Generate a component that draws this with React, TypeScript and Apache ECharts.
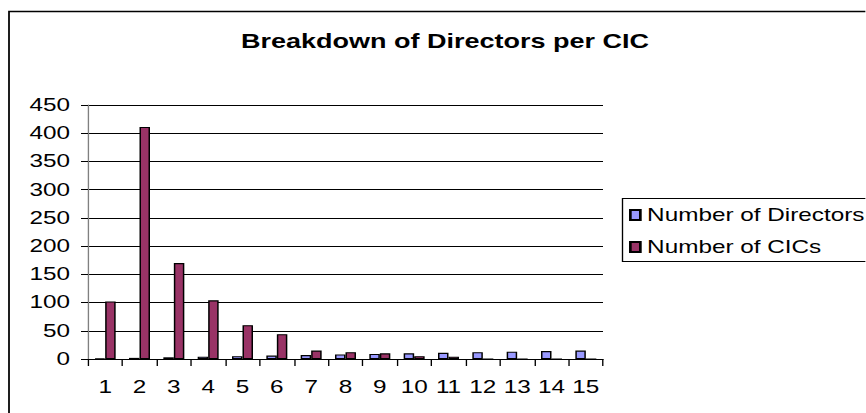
import React, { useEffect, useRef } from "react";
import * as echarts from "echarts";

const categories = ["1", "2", "3", "4", "5", "6", "7", "8", "9", "10", "11", "12", "13", "14", "15"];
const directors = [1, 2, 3, 4, 5, 6, 7, 8, 9, 10, 11, 12, 13, 14, 15];
const cics = [102, 411, 170, 104, 60, 44, 15, 12, 10, 5, 4, 0, 0, 0, 0];
const yTicks = { min: 0, max: 450, interval: 50 };

const S = 1.35; // horizontal stretch of the reference picture
const W = 866 / S;
const H = 413;
const sx = (v: number) => v / S;

export default function App() {
  const ref = useRef<HTMLDivElement>(null);
  useEffect(() => {
    if (!ref.current) return;
    const chart = echarts.init(ref.current, undefined, { renderer: "svg", width: W, height: H });
    const font = "'Liberation Sans', Arial, sans-serif";
    chart.setOption({
      animation: false,
      textStyle: { fontFamily: font, color: "#000" },
      title: {
        text: "Breakdown of Directors per CIC",
        left: sx(241),
        top: 31,
        padding: 0,
        textStyle: { fontFamily: font, fontSize: 20, fontWeight: "bold", color: "#000" },
      },
      grid: { left: sx(88), right: W - sx(603), top: 105, bottom: H - 359, containLabel: false },
      legend: {
        orient: "vertical",
        left: sx(629),
        top: 205,
        padding: 0,
        itemWidth: sx(10),
        itemHeight: 10,
        itemGap: 12,
        icon: "rect",
        textStyle: { fontFamily: font, fontSize: 18, color: "#000", lineHeight: 20 },
        data: ["Number of Directors", "Number of CICs"],
      },
      xAxis: {
        type: "category",
        data: categories,
        boundaryGap: true,
        axisLine: { show: true, lineStyle: { color: "#000", width: 1 } },
        axisTick: { show: true, alignWithLabel: false, length: 7, lineStyle: { color: "#000" } },
        axisLabel: { fontFamily: font, fontSize: 18, color: "#000", margin: 19, interval: 0 },
      },
      yAxis: {
        type: "value",
        min: yTicks.min,
        max: yTicks.max,
        interval: yTicks.interval,
        axisLine: { show: true, lineStyle: { color: "#808080", width: 1 } },
        axisTick: { show: true, length: sx(7), lineStyle: { color: "#000" } },
        axisLabel: { fontFamily: font, fontSize: 18, color: "#000", margin: sx(18) },
        splitLine: { show: true, lineStyle: { color: "#000", width: 1 } },
      },
      series: [
        {
          name: "Number of Directors",
          type: "bar",
          data: directors,
          barWidth: sx(10.5),
          barGap: "0%",
          itemStyle: { color: "#9999FF", borderColor: "#000", borderWidth: 1.1 },
        },
        {
          name: "Number of CICs",
          type: "bar",
          data: cics,
          barWidth: sx(10.5),
          barGap: "0%",
          itemStyle: { color: "#993366", borderColor: "#000", borderWidth: 1.1 },
        },
      ],
      graphic: [
        {
          type: "rect",
          silent: true,
          shape: { x: sx(9), y: 11.5, width: 900, height: 600 },
          style: { fill: "none", stroke: "#000", lineWidth: 1.3 },
        },
        {
          type: "rect",
          silent: true,
          shape: { x: sx(622.5), y: 198.5, width: 400, height: 63 },
          style: { fill: "none", stroke: "#000", lineWidth: 1 },
        },
      ],
    });
    return () => chart.dispose();
  }, []);
  return (
    <div
      style={{
        position: "fixed",
        left: 0,
        top: 0,
        width: 866,
        height: H,
        overflow: "hidden",
        background: "#fff",
      }}
    >
      <div
        ref={ref}
        style={{
          width: W,
          height: H,
          transform: `scaleX(${S})`,
          transformOrigin: "0 0",
        }}
      />
    </div>
  );
}
